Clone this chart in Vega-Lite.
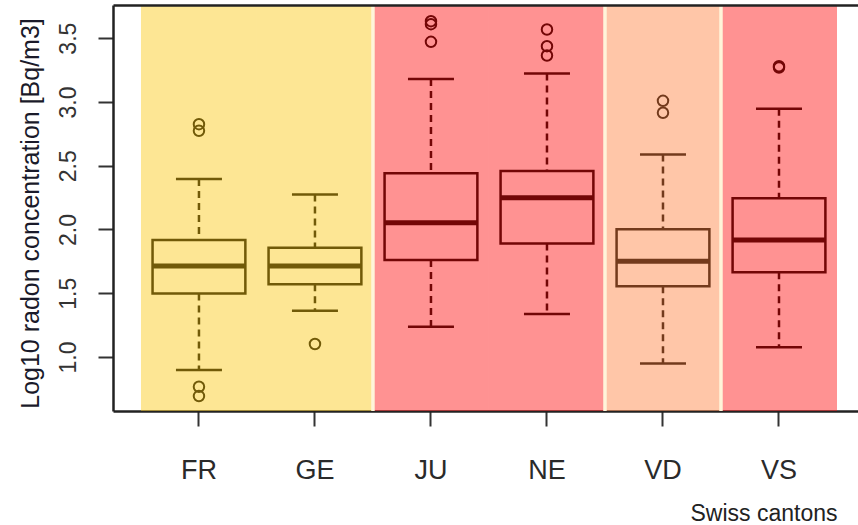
{
  "$schema": "https://vega.github.io/schema/vega-lite/v6.json",
  "width": 745,
  "height": 406,
  "autosize": {"type": "none"},
  "padding": {"left": 113, "top": 5, "right": 0, "bottom": 114},
  "background": "white",
  "config": {"view": {"stroke": null}, "font": "Liberation Sans", "axis": {"grid": false}},
  "datasets": {
    "stats": [
      {"canton": "FR", "zone": "low", "lo": 0.898, "q1": 1.499, "median": 1.713, "q3": 1.917, "hi": 2.395},
      {"canton": "GE", "zone": "low", "lo": 1.363, "q1": 1.570, "median": 1.713, "q3": 1.857, "hi": 2.275},
      {"canton": "JU", "zone": "high", "lo": 1.237, "q1": 1.760, "median": 2.053, "q3": 2.440, "hi": 3.179},
      {"canton": "NE", "zone": "high", "lo": 1.337, "q1": 1.891, "median": 2.249, "q3": 2.458, "hi": 3.223},
      {"canton": "VD", "zone": "medium", "lo": 0.950, "q1": 1.556, "median": 1.752, "q3": 2.001, "hi": 2.588},
      {"canton": "VS", "zone": "high", "lo": 1.076, "q1": 1.664, "median": 1.917, "q3": 2.244, "hi": 2.946}
    ],
    "out": [
      {"canton": "FR", "value": 2.826},
      {"canton": "FR", "value": 2.774},
      {"canton": "FR", "value": 0.767},
      {"canton": "FR", "value": 0.694},
      {"canton": "GE", "value": 1.102},
      {"canton": "JU", "value": 3.633},
      {"canton": "JU", "value": 3.610},
      {"canton": "JU", "value": 3.471},
      {"canton": "NE", "value": 3.568},
      {"canton": "NE", "value": 3.437},
      {"canton": "NE", "value": 3.364},
      {"canton": "VD", "value": 3.009},
      {"canton": "VD", "value": 2.915},
      {"canton": "VS", "value": 3.280},
      {"canton": "VS", "value": 3.270}
    ]
  },
  "layer": [
    {
      "data": {"name": "stats"},
      "mark": {"type": "rule", "strokeDash": [7, 5], "strokeWidth": 2.5, "color": "black", "opacity": 1},
      "encoding": {
        "x": {
          "field": "canton", "type": "nominal",
          "scale": {"type": "band", "paddingInner": 0, "paddingOuter": 0.211, "align": 0.571},
          "axis": {
            "orient": "bottom", "domain": true, "domainColor": "#222", "domainWidth": 2.5,
            "ticks": true, "tickSize": 15, "tickWidth": 2, "tickColor": "#333",
            "labelFont": "Liberation Sans", "labelFontSize": 27, "labelColor": "#2a2a2a",
            "labelAngle": 0, "labelPadding": 52, "labelBaseline": "alphabetic",
            "title": "Swiss cantons", "titleFont": "Liberation Sans", "titleFontSize": 23,
            "titleFontWeight": "normal", "titleColor": "#222", "titleX": 724, "titleY": 109,
            "titleAlign": "right", "titleBaseline": "alphabetic"
          }
        },
        "y": {
          "field": "hi", "type": "quantitative",
          "scale": {"domain": [0.577, 3.76], "nice": false, "zero": false},
          "axis": {
            "values": [1, 1.5, 2, 2.5, 3, 3.5], "format": ".1f",
            "domain": true, "domainColor": "#222", "domainWidth": 2.5,
            "ticks": true, "tickSize": 15, "tickWidth": 2, "tickColor": "#333",
            "labelFont": "Liberation Sans", "labelFontSize": 23, "labelColor": "#333",
            "labelAngle": -90, "labelAlign": "center", "labelBaseline": "alphabetic", "labelPadding": 23,
            "title": "Log10 radon concentration [Bq/m3]", "titleFont": "Liberation Sans",
            "titleFontSize": 25, "titleFontWeight": "normal", "titleColor": "#1a1a2a",
            "titleX": -75, "titleY": 208, "titleAngle": -90, "titleAlign": "center",
            "titleBaseline": "alphabetic"
          }
        },
        "y2": {"field": "q3"}
      }
    },
    {
      "data": {"name": "stats"},
      "mark": {"type": "rule", "strokeDash": [7, 5], "strokeWidth": 2.5, "color": "black", "opacity": 1},
      "encoding": {
        "x": {"field": "canton", "type": "nominal", "scale": {"type": "band", "paddingInner": 0, "paddingOuter": 0.211, "align": 0.571}, "axis": null},
        "y": {"field": "q1", "type": "quantitative", "scale": {"domain": [0.577, 3.76], "nice": false, "zero": false}},
        "y2": {"field": "lo"}
      }
    },
    {
      "data": {"name": "stats"},
      "mark": {"type": "tick", "size": 46, "thickness": 2.5, "color": "black", "opacity": 1},
      "encoding": {
        "x": {"field": "canton", "type": "nominal", "scale": {"type": "band", "paddingInner": 0, "paddingOuter": 0.211, "align": 0.571}, "axis": null},
        "y": {"field": "hi", "type": "quantitative", "scale": {"domain": [0.577, 3.76], "nice": false, "zero": false}}
      }
    },
    {
      "data": {"name": "stats"},
      "mark": {"type": "tick", "size": 46, "thickness": 2.5, "color": "black", "opacity": 1},
      "encoding": {
        "x": {"field": "canton", "type": "nominal", "scale": {"type": "band", "paddingInner": 0, "paddingOuter": 0.211, "align": 0.571}, "axis": null},
        "y": {"field": "lo", "type": "quantitative", "scale": {"domain": [0.577, 3.76], "nice": false, "zero": false}}
      }
    },
    {
      "data": {"name": "stats"},
      "mark": {"type": "bar", "fill": "white", "stroke": "black", "strokeWidth": 2.5, "width": {"band": 0.8}, "opacity": 1},
      "encoding": {
        "x": {"field": "canton", "type": "nominal", "scale": {"type": "band", "paddingInner": 0, "paddingOuter": 0.211, "align": 0.571}, "axis": null},
        "y": {"field": "q1", "type": "quantitative", "scale": {"domain": [0.577, 3.76], "nice": false, "zero": false}},
        "y2": {"field": "q3"}
      }
    },
    {
      "data": {"name": "stats"},
      "mark": {"type": "tick", "size": 93, "thickness": 5, "color": "black", "opacity": 1},
      "encoding": {
        "x": {"field": "canton", "type": "nominal", "scale": {"type": "band", "paddingInner": 0, "paddingOuter": 0.211, "align": 0.571}, "axis": null},
        "y": {"field": "median", "type": "quantitative", "scale": {"domain": [0.577, 3.76], "nice": false, "zero": false}}
      }
    },
    {
      "data": {"name": "out"},
      "mark": {"type": "point", "shape": "circle", "filled": false, "color": "black", "strokeWidth": 2, "size": 110, "opacity": 1},
      "encoding": {
        "x": {"field": "canton", "type": "nominal", "scale": {"type": "band", "paddingInner": 0, "paddingOuter": 0.211, "align": 0.571}, "axis": null},
        "y": {"field": "value", "type": "quantitative", "scale": {"domain": [0.577, 3.76], "nice": false, "zero": false}}
      }
    },
    {
      "data": {"name": "stats"},
      "mark": {"type": "rect", "opacity": 0.45},
      "encoding": {
        "x": {
          "field": "canton", "type": "nominal",
          "scale": {"type": "band", "paddingInner": 0, "paddingOuter": 0.211, "align": 0.571},
          "axis": {"orient": "top", "labels": false, "ticks": false, "title": null, "domain": true, "domainColor": "#222", "domainWidth": 2.5}
        },
        "color": {
          "field": "zone", "type": "nominal",
          "scale": {"domain": ["low", "medium", "high"], "range": ["#FBC711", "#FF803E", "#FF0D0D"]},
          "legend": null
        }
      }
    },
    {
      "data": {"name": "stats"},
      "transform": [{"filter": {"field": "canton", "oneOf": ["JU", "VD", "VS"]}}],
      "mark": {"type": "rule", "color": "#FFF5DA", "strokeWidth": 3.5, "opacity": 1},
      "encoding": {
        "x": {"field": "canton", "type": "nominal", "bandPosition": 0, "scale": {"type": "band", "paddingInner": 0, "paddingOuter": 0.211, "align": 0.571}, "axis": null}
      }
    }
  ],
  "resolve": {"axis": {"x": "independent"}}
}
